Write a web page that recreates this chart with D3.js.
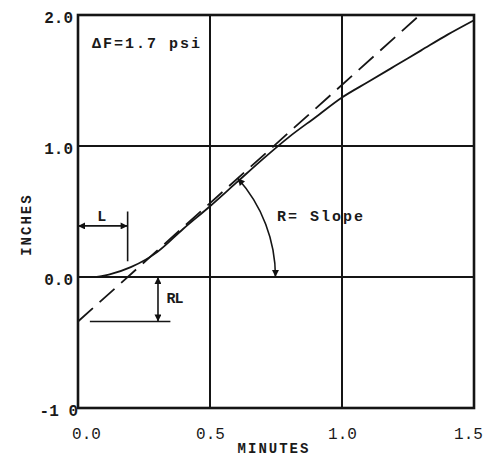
<!DOCTYPE html>
<html>
<head>
<meta charset="utf-8">
<script src="https://cdn.jsdelivr.net/npm/d3@7"></script>
<style>
  html, body { margin: 0; padding: 0; background: #fff; }
  svg { display: block; }
  text { font-family: "Liberation Mono", "DejaVu Sans Mono", monospace; fill: #1a1a1a; }
</style>
</head>
<body>
<script>
// Measured deflection (inches) against time (minutes)
const curveX = [0.00, 0.06, 0.12, 0.20, 0.30, 0.40, 0.50, 0.60, 0.70, 0.80, 0.90, 1.00, 1.10, 1.20, 1.30, 1.40, 1.50];
const curveY = [0.00, 0.00, 0.02, 0.075, 0.19, 0.37, 0.54, 0.72, 0.90, 1.07, 1.22, 1.37, 1.49, 1.61, 1.73, 1.85, 1.96];

// Tangent line through the steady part of the curve
const tangentX = [0.00, 1.295];
const tangentY = [-0.34, 2.00];

// Construction values
const lagL = 0.188;          // tangent crosses zero here
const lagRL = -0.34;         // tangent at time zero
const slopeArcStartX = 0.605;

const xTicks = [0.0, 0.5, 1.0, 1.5];
const xTickLabels = ["0.0", "0.5", "1.0", "1.5"];
const yTicks = [2.0, 1.0, 0.0, -1.0];
const yTickLabels = ["2.0", "1.0", "0.0", "-1 0"];

const W = 483, H = 457;
const plot = { left: 78, right: 474, top: 15, bottom: 408 };

const x = d3.scaleLinear().domain([0, 1.5]).range([plot.left, plot.right]);
const y = d3.scaleLinear().domain([-1, 2]).range([plot.bottom, plot.top]);

const svg = d3.select("body").append("svg").attr("width", W).attr("height", H);

const defs = svg.append("defs");
defs.append("marker")
  .attr("id", "head")
  .attr("viewBox", "0 0 10 10")
  .attr("refX", 10).attr("refY", 5)
  .attr("markerWidth", 10).attr("markerHeight", 7)
  .attr("markerUnits", "userSpaceOnUse")
  .attr("orient", "auto-start-reverse")
  .append("path").attr("d", "M0,0 L10,5 L0,10 Z").attr("fill", "#111");

const ink = "#151515";

// Grid lines
const grid = svg.append("g").attr("stroke", ink).attr("stroke-width", 2);
[0.5, 1.0].forEach(v => grid.append("line")
  .attr("x1", x(v)).attr("x2", x(v)).attr("y1", y(2)).attr("y2", y(-1)));
[0.0, 1.0].forEach(v => grid.append("line")
  .attr("x1", x(0)).attr("x2", x(1.5)).attr("y1", y(v)).attr("y2", y(v)));

// Frame
svg.append("rect")
  .attr("x", x(0)).attr("y", y(2))
  .attr("width", x(1.5) - x(0)).attr("height", y(-1) - y(2))
  .attr("fill", "none").attr("stroke", ink).attr("stroke-width", 2.6);

// Axes: labels only
const xAxis = d3.axisBottom(x).tickValues(xTicks).tickSize(0)
  .tickFormat((d, i) => xTickLabels[i]);
const gx = svg.append("g").attr("transform", `translate(0,${plot.bottom})`).call(xAxis);
gx.select(".domain").remove();
gx.selectAll("text")
  .attr("font-family", "Liberation Mono, monospace")
  .attr("font-size", 16).attr("fill", "#222")
  .attr("y", 20)
  .attr("dx", (d, i) => i === 0 ? 8 : (i === xTicks.length - 1 ? -6 : 0));

const yAxis = d3.axisLeft(y).tickValues(yTicks).tickSize(0)
  .tickFormat((d, i) => yTickLabels[i]);
const gy = svg.append("g").attr("transform", `translate(${plot.left},0)`).call(yAxis);
gy.select(".domain").remove();
gy.selectAll("text")
  .attr("font-family", "Liberation Mono, monospace")
  .attr("font-size", 16).attr("font-weight", "bold").attr("fill", "#222")
  .attr("x", (d) => d === -1 ? 0 : -5)
  .attr("dy", "0.45em");

// Axis titles
svg.append("text")
  .attr("x", 274).attr("y", 453)
  .attr("text-anchor", "middle")
  .attr("font-size", 14).attr("font-weight", "bold")
  .attr("letter-spacing", 2)
  .text("MINUTES");

svg.append("text")
  .attr("transform", `translate(31,${(y(0.4))}) rotate(-90)`)
  .attr("text-anchor", "middle")
  .attr("font-size", 14).attr("font-weight", "bold")
  .attr("letter-spacing", 2)
  .text("INCHES");

// Tangent (dashed)
const line = d3.line().x(d => x(d[0])).y(d => y(d[1]));
svg.append("path")
  .datum(tangentX.map((v, i) => [v, tangentY[i]]))
  .attr("d", line)
  .attr("fill", "none").attr("stroke", ink).attr("stroke-width", 1.8)
  .attr("stroke-dasharray", "20,9");

// Measured curve
svg.append("path")
  .datum(curveX.map((v, i) => [v, curveY[i]]))
  .attr("d", line.curve(d3.curveMonotoneX))
  .attr("fill", "none").attr("stroke", ink).attr("stroke-width", 1.8);

// Lag L: double arrow and vertical marker
const ann = svg.append("g").attr("stroke", ink).attr("stroke-width", 1.6).attr("fill", "none");
ann.append("line")
  .attr("x1", x(0)).attr("x2", x(lagL))
  .attr("y1", y(0.39)).attr("y2", y(0.39))
  .attr("marker-start", "url(#head)").attr("marker-end", "url(#head)");
ann.append("line")
  .attr("x1", x(lagL)).attr("x2", x(lagL))
  .attr("y1", y(0.5)).attr("y2", y(0.12));
svg.append("text")
  .attr("x", x(0.09)).attr("y", y(0.43))
  .attr("text-anchor", "middle")
  .attr("font-size", 15).attr("font-weight", "bold")
  .text("L");

// RL: vertical double arrow and base line
ann.append("line")
  .attr("x1", x(0.303)).attr("x2", x(0.303))
  .attr("y1", y(0)).attr("y2", y(lagRL))
  .attr("marker-start", "url(#head)").attr("marker-end", "url(#head)");
ann.append("line")
  .attr("x1", x(0.045)).attr("x2", x(0.35))
  .attr("y1", y(lagRL)).attr("y2", y(lagRL));
svg.append("text")
  .attr("x", x(0.335)).attr("y", y(-0.2))
  .attr("font-size", 15).attr("font-weight", "bold")
  .attr("letter-spacing", -1)
  .text("RL");

// Slope arc centred on the zero crossing of the tangent
const cx = x(lagL), cy = y(0);
const sx = x(slopeArcStartX);
const sy = y(tangentY[0] + (tangentY[1] - tangentY[0]) / (tangentX[1] - tangentX[0]) * slopeArcStartX);
const r = Math.hypot(sx - cx, sy - cy);
ann.append("path")
  .attr("d", `M${sx},${sy} A${r},${r} 0 0 1 ${cx + r},${cy}`)
  .attr("marker-start", "url(#head)").attr("marker-end", "url(#head)");

svg.append("text")
  .attr("x", 277).attr("y", 221)
  .attr("font-size", 15).attr("font-weight", "bold")
  .attr("letter-spacing", 2)
  .text("R= Slope");

svg.append("text")
  .attr("x", 92).attr("y", 48)
  .attr("font-size", 15).attr("font-weight", "bold")
  .attr("letter-spacing", 2)
  .text("ΔF=1.7 psi");
</script>
</body>
</html>
